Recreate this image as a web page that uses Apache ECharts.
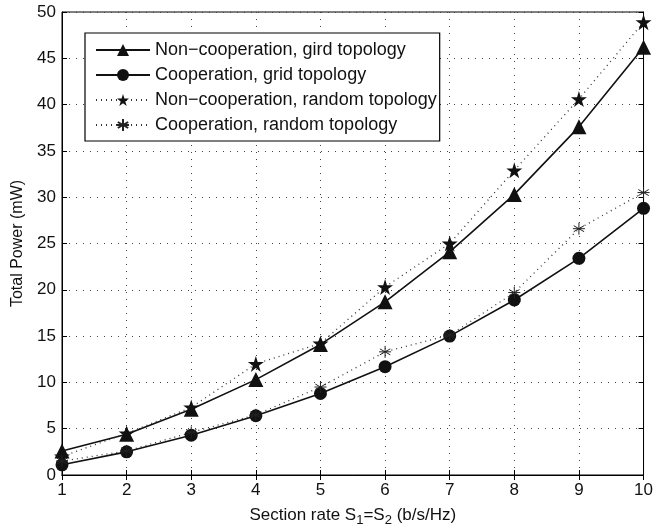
<!DOCTYPE html>
<html>
<head>
<meta charset="utf-8">
<script src="https://cdn.jsdelivr.net/npm/echarts@6/dist/echarts.min.js"></script>
<style>
  html, body { margin: 0; padding: 0; background: #fff; }
  #main { width: 656px; height: 532px; }
</style>
</head>
<body>
<div id="main"></div>
<script>
// section rate S1=S2 (b/s/Hz)
var rates = [1, 2, 3, 4, 5, 6, 7, 8, 9, 10];

// total power (mW)
var nonCoopGrid = [2.6, 4.4, 7.1, 10.3, 14.1, 18.7, 24.1, 30.3, 37.6, 46.2];
var coopGrid = [1.1, 2.5, 4.3, 6.4, 8.8, 11.7, 15.0, 18.9, 23.4, 28.8];
var nonCoopRandom = [2.0, 4.5, 7.3, 12.0, 14.2, 20.3, 25.0, 32.9, 40.6, 48.9];
var coopRandom = [1.5, 2.6, 4.6, 6.5, 9.5, 13.3, 15.1, 19.7, 26.6, 30.5];

var seriesNames = [
    'Non\u2212cooperation, gird topology',
    'Cooperation, grid topology',
    'Non\u2212cooperation, random topology',
    'Cooperation, random topology'
];

var STAR = 'path://M0,-100L22.45,-30.9L95.1,-30.9L36.3,11.8L58.8,80.9L0,38.2L-58.8,80.9L-36.3,11.8L-95.1,-30.9L-22.45,-30.9Z';
var ASTERISK = 'path://M0,-10L0,10M-8.66,-5L8.66,5M-8.66,5L8.66,-5M-10,0L10,0';

function pairs(ys) {
    var out = [];
    for (var i = 0; i < rates.length; i++) {
        out.push([rates[i], ys[i]]);
    }
    return out;
}

var myChart = echarts.init(document.getElementById('main'));

var FONT = 'Liberation Sans';
var gridLine = { show: true, lineStyle: { color: '#444', type: [1, 6], width: 1 } };

var option = {
    animation: false,
    backgroundColor: '#fff',
    textStyle: { fontFamily: FONT },
    grid: {
        left: 62, right: 8, top: 12, bottom: 57,
        show: true, borderColor: '#000', borderWidth: 1
    },
    legend: {
        orient: 'vertical',
        left: 85, top: 33,
        backgroundColor: '#fff',
        borderColor: '#000', borderWidth: 1.2,
        padding: [8, 3, 7, 10],
        itemGap: 7,
        itemWidth: 54, itemHeight: 15,
        textStyle: { fontFamily: FONT, fontSize: 18, color: '#111' },
        data: seriesNames
    },
    xAxis: [{
        type: 'value',
        min: 1, max: 10, interval: 1,
        name: '{a|Section rate S}{s|1}{a|=S}{s|2}{a| (b/s/Hz)}',
        nameLocation: 'middle',
        nameGap: 29,
        nameTextStyle: {
            rich: {
                a: { fontFamily: FONT, fontSize: 17, color: '#111' },
                s: { fontFamily: FONT, fontSize: 13, color: '#111', padding: [10, 0, 0, 0] }
            }
        },
        axisLine: { lineStyle: { color: '#000' } },
        axisTick: { inside: true, length: 5, lineStyle: { color: '#000' } },
        axisLabel: { fontFamily: FONT, fontSize: 17, color: '#111', margin: 7 },
        splitLine: gridLine
    }, {
        type: 'value',
        position: 'top',
        min: 1, max: 10, interval: 1,
        axisLine: { lineStyle: { color: '#000' } },
        axisTick: { inside: true, length: 5, lineStyle: { color: '#000' } },
        axisLabel: { show: false },
        splitLine: { show: false }
    }],
    yAxis: [{
        type: 'value',
        min: 0, max: 50, interval: 5,
        name: 'Total Power (mW)',
        nameLocation: 'middle',
        nameGap: 36,
        nameTextStyle: { fontFamily: FONT, fontSize: 16, color: '#111' },
        axisLine: { lineStyle: { color: '#000' } },
        axisTick: { inside: true, length: 5, lineStyle: { color: '#000' } },
        axisLabel: { fontFamily: FONT, fontSize: 17, color: '#111', margin: 6 },
        splitLine: gridLine
    }, {
        type: 'value',
        position: 'right',
        min: 0, max: 50, interval: 5,
        axisLine: { lineStyle: { color: '#000' } },
        axisTick: { inside: true, length: 5, lineStyle: { color: '#000' } },
        axisLabel: { show: false },
        splitLine: { show: false }
    }],
    series: [{
        name: seriesNames[0],
        type: 'line',
        data: pairs(nonCoopGrid),
        symbol: 'triangle',
        symbolSize: 15,
        itemStyle: { color: '#111' },
        lineStyle: { color: '#111', width: 1.6 },
        z: 3
    }, {
        name: seriesNames[1],
        type: 'line',
        data: pairs(coopGrid),
        symbol: 'circle',
        symbolSize: 13,
        itemStyle: { color: '#111' },
        lineStyle: { color: '#111', width: 1.6 },
        z: 3
    }, {
        name: seriesNames[2],
        type: 'line',
        data: pairs(nonCoopRandom),
        symbol: STAR,
        symbolSize: 16,
        itemStyle: { color: '#111' },
        lineStyle: { color: '#333', width: 1.3, type: [1, 4] },
        z: 4
    }, {
        name: seriesNames[3],
        type: 'line',
        data: pairs(coopRandom),
        symbol: ASTERISK,
        symbolSize: 12,
        itemStyle: { color: 'none', borderColor: '#222', borderWidth: 1 },
        lineStyle: { color: '#333', width: 1.3, type: [1, 4] },
        z: 4
    }]
};

myChart.setOption(option);
</script>
</body>
</html>
